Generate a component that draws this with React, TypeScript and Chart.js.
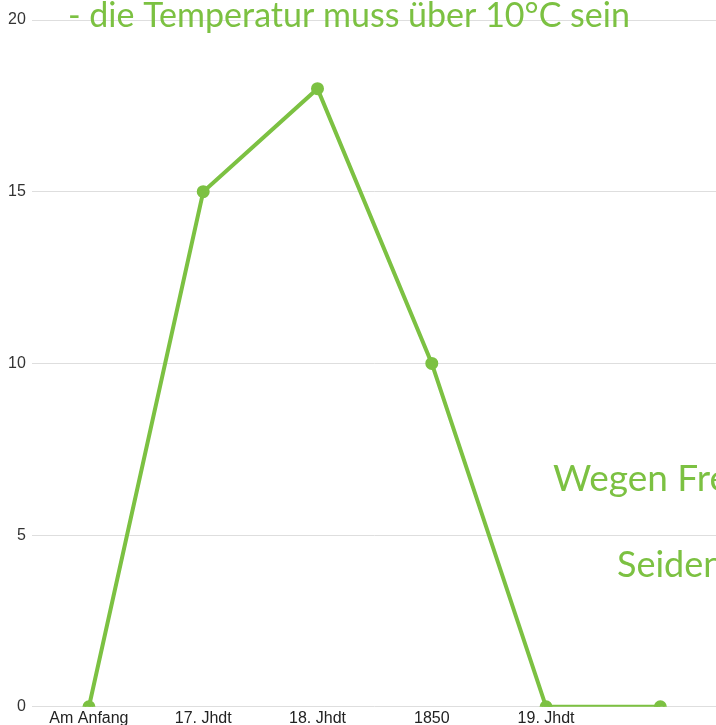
import React, { useEffect, useRef } from "react";
import { Chart, registerables } from "chart.js";

Chart.register(...registerables);

const categories = ["Am Anfang", "17. Jhdt", "18. Jhdt", "1850", "19. Jhdt", ""];
const seriesValues = [0, 15, 18, 10, 0, 0];
const yTicks = [0, 5, 10, 15, 20];
const overlayTexts = ["- die Temperatur muss über 10°C sein", "Wegen Fre", "Seiden"];

const GREEN = "rgb(124,193,66)";

const overlayPlugin = {
  id: "overlayText",
  afterDraw(chart: any) {
    const ctx = chart.ctx as CanvasRenderingContext2D;
    ctx.save();
    ctx.fillStyle = GREEN;
    ctx.textBaseline = "alphabetic";
    ctx.textAlign = "left";
    ctx.font = "30px Lato";
    const w = ctx.measureText(overlayTexts[0]).width;
    const size = (30 * 562) / w;
    ctx.font = `${size.toFixed(1)}px Lato`;
    ctx.fillText(overlayTexts[0], 68, 27);
    ctx.font = "37px Lato";
    ctx.fillText(overlayTexts[1], 553, 491);
    ctx.font = "36px Lato";
    ctx.fillText(overlayTexts[2], 617, 577);
    ctx.restore();
  },
};

export default function App() {
  const ref = useRef<HTMLCanvasElement | null>(null);
  useEffect(() => {
    if (!ref.current) return;
    const chart = new Chart(ref.current, {
      type: "line",
      data: {
        labels: categories,
        datasets: [
          {
            data: seriesValues,
            borderColor: GREEN,
            backgroundColor: GREEN,
            borderWidth: 4,
            pointRadius: 4.5,
            pointBackgroundColor: GREEN,
            pointBorderColor: GREEN,
            tension: 0,
          },
        ],
      },
      options: {
        animation: false,
        responsive: false,
        maintainAspectRatio: false,
        layout: { padding: { top: 20, left: 2, right: 0, bottom: 0 } },
        plugins: { legend: { display: false }, tooltip: { enabled: false } },
        scales: {
          x: {
            offset: true,
            grid: { display: false, drawTicks: false },
            border: { display: false },
            ticks: {
              color: "#222",
              font: { family: "Liberation Sans", size: 16 },
              padding: 2,
              maxRotation: 0,
              autoSkip: false,
            },
          },
          y: {
            min: 0,
            max: 20,
            afterBuildTicks: (axis: any) => {
              axis.ticks = yTicks.map((v) => ({ value: v }));
            },
            grid: { color: "#dedede", lineWidth: 1, drawTicks: false },
            border: { display: false },
            ticks: {
              color: "#333",
              font: { family: "Liberation Sans", size: 16 },
              padding: 6,
            },
          },
        },
      },
      plugins: [overlayPlugin],
    });
    return () => chart.destroy();
  }, []);
  return (
    <div style={{ position: "absolute", left: 0, top: 0, width: 716, height: 725, overflow: "hidden", background: "#fff" }}>
      <canvas ref={ref} width={726} height={730} style={{ display: "block" }} />
    </div>
  );
}
